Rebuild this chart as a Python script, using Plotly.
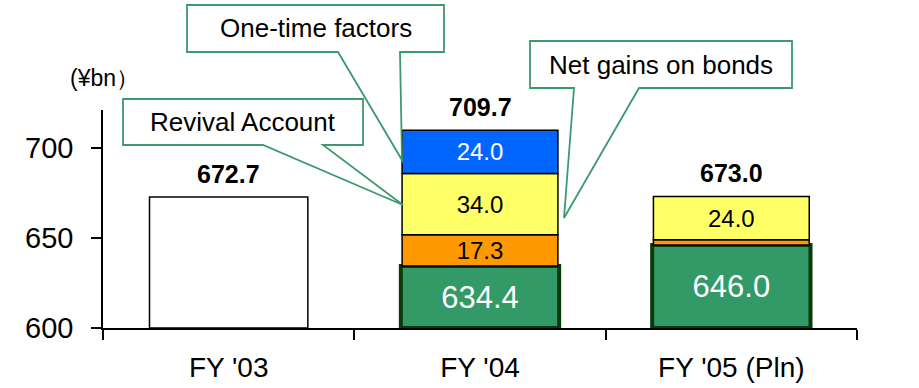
import plotly.graph_objects as go

categories = ["FY '03", "FY '04", "FY '05 (Pln)"]
base_total = [672.7, None, None]          # FY'03 total (white bar)
core = [None, 634.4, 646.0]               # green
revival = [None, 17.3, 3.0]               # orange
bonds = [None, 34.0, 24.0]                # yellow
onetime = [None, 24.0, None]              # blue
totals = [672.7, 709.7, 673.0]
core_labels = ["", "634.4", "646.0"]
revival_labels = ["", "17.3", ""]
bonds_labels = ["", "34.0", "24.0"]
onetime_labels = ["", "24.0", ""]
y_ticks = [600, 650, 700]
Y_MIN, Y_MAX = 600, 721

FONT = "Liberation Sans, Arial, sans-serif"

def nz(v):
    return 0 if v is None else v

fig = go.Figure()

# FY'03 white bar
fig.add_bar(x=categories, y=[None if v is None else v - Y_MIN for v in base_total], base=Y_MIN,
            marker=dict(color="white", line=dict(color="black", width=1.5)), width=0.63,
            hoverinfo="skip", showlegend=False)

# green core
fig.add_bar(x=categories, y=[None if v is None else v - Y_MIN for v in core], base=Y_MIN,
            marker=dict(color="#339966", line=dict(color="#0B3A0B", width=4)), width=0.63,
            text=core_labels, textposition="inside", insidetextanchor="middle",
            textfont=dict(color="white", size=31, family=FONT), constraintext="none",
            hoverinfo="skip", showlegend=False)

# orange
b1 = [nz(c) for c in core]
fig.add_bar(x=categories, y=revival, base=b1,
            marker=dict(color="#FF9900", line=dict(color="black", width=1.5)), width=0.62,
            text=revival_labels, textposition="inside", insidetextanchor="middle",
            textfont=dict(color="black", size=24, family=FONT), constraintext="none",
            hoverinfo="skip", showlegend=False)

# yellow
b2 = [nz(c) + nz(r) for c, r in zip(core, revival)]
fig.add_bar(x=categories, y=bonds, base=b2,
            marker=dict(color="#FFFF66", line=dict(color="black", width=1.5)), width=0.62,
            text=bonds_labels, textposition="inside", insidetextanchor="middle",
            textfont=dict(color="black", size=24, family=FONT), constraintext="none",
            hoverinfo="skip", showlegend=False)

# blue
b3 = [b + nz(y) for b, y in zip(b2, bonds)]
fig.add_bar(x=categories, y=onetime, base=b3,
            marker=dict(color="#0066FF", line=dict(color="black", width=1.5)), width=0.62,
            text=onetime_labels, textposition="inside", insidetextanchor="middle",
            textfont=dict(color="white", size=24, family=FONT), constraintext="none",
            hoverinfo="skip", showlegend=False)

annotations = []
for c, t in zip(categories, totals):
    annotations.append(dict(x=c, y=t, xref="x", yref="y", text=f"<b>{t:.1f}</b>",
                            showarrow=False, yanchor="bottom", yshift=7,
                            font=dict(size=25, color="black", family=FONT)))

# unit label
L, R, T, B = 103, 857, 110, 328
W, H = R - L, B - T
def px(x):
    return (x - L) / W
def py(y):
    return (B - y) / H

annotations.append(dict(x=px(104), y=py(78), xref="paper", yref="paper", text="(¥bn）",
                        showarrow=False, xanchor="center", yanchor="middle",
                        font=dict(size=23, color="black", family=FONT)))

# callouts: box (x1,y1,x2,y2), pointer base (p1,p2), tip (tx,ty), text
callouts = [
    ((187, 5, 444, 52), (338, 400), (402, 160), "One-time factors"),
    ((123, 99, 363, 145), (263, 323), (403, 205), "Revival Account"),
    ((530, 41, 792, 88), (574, 639), (564, 218), "Net gains on bonds"),
]
shapes = []
for (x1, y1, x2, y2), (p1, p2), (tx, ty), label in callouts:
    path = (f"M {px(x1)},{py(y1)} L {px(x2)},{py(y1)} L {px(x2)},{py(y2)} "
            f"L {px(p2)},{py(y2)} L {px(tx)},{py(ty)} L {px(p1)},{py(y2)} "
            f"L {px(x1)},{py(y2)} Z")
    shapes.append(dict(type="path", path=path, xref="paper", yref="paper",
                       fillcolor="white", line=dict(color="#3D9A6E", width=1.8), layer="above"))
    annotations.append(dict(x=px((x1 + x2) / 2), y=py((y1 + y2) / 2), xref="paper", yref="paper",
                            text=label, showarrow=False, xanchor="center", yanchor="middle",
                            font=dict(size=26, color="black", family=FONT)))

fig.update_layout(
    width=919, height=388,
    margin=dict(l=L, r=919 - R, t=T, b=388 - B, autoexpand=False),
    paper_bgcolor="white", plot_bgcolor="white",
    barmode="overlay",
    font=dict(family=FONT, color="black"),
    shapes=shapes, annotations=annotations,
    xaxis=dict(type="category", range=[-0.5, 2.5], showline=True, linecolor="black", linewidth=1.5,
               ticks="outside", tickson="boundaries", ticklen=10, tickcolor="black", tickwidth=1.5,
               showgrid=False, tickfont=dict(size=28, family=FONT), ticklabelstandoff=14,
               automargin=False),
    yaxis=dict(range=[Y_MIN, Y_MAX], tickvals=y_ticks, showline=True, linecolor="black", linewidth=1.5,
               ticks="outside", ticklen=10, tickcolor="black", tickwidth=1.5, showgrid=False,
               zeroline=False, tickfont=dict(size=29, family=FONT), ticklabelstandoff=12,
               automargin=False),
)

fig.write_html("out.html", config={"displayModeBar": False},
               post_script="document.body.style.margin='0';document.body.style.overflow='hidden';")
